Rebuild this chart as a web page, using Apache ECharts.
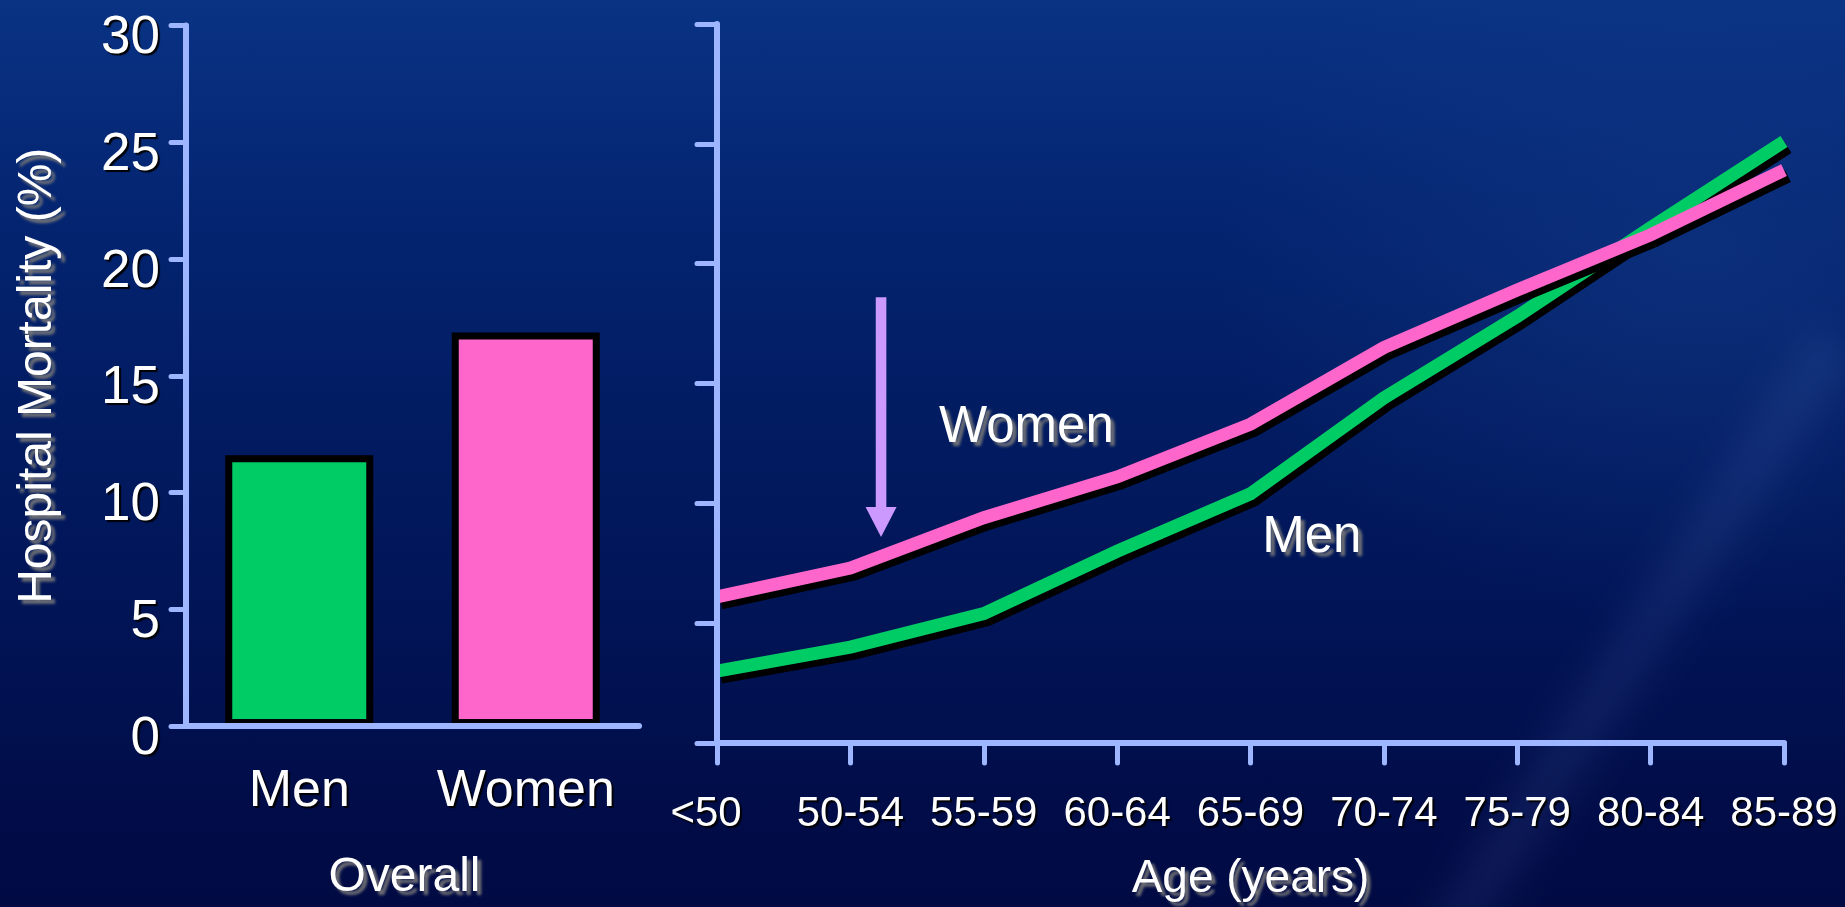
<!DOCTYPE html>
<html>
<head>
<meta charset="utf-8">
<script src="https://cdn.jsdelivr.net/npm/echarts@6/dist/echarts.min.js"></script>
<style>
  html, body { margin: 0; padding: 0; background: #021a5c; }
  #wrap {
    position: relative; width: 1845px; height: 907px; overflow: hidden;
    background:
      radial-gradient(ellipse 700px 520px at 1700px 260px, rgba(22, 62, 140, 0.45), rgba(22, 62, 140, 0) 70%),
      linear-gradient(180deg, #0a3384 0%, #042572 22%, #021c62 45%, #011456 68%, #010d49 88%, #010a43 100%);
  }
  #streak {
    position: absolute; left: 1420px; top: 940px; width: 760px; height: 80px;
    transform: rotate(-57deg); transform-origin: 0 50%;
    background: linear-gradient(180deg, rgba(120,150,230,0) 0%, rgba(120,150,230,0.13) 50%, rgba(120,150,230,0) 100%);
    filter: blur(16px);
  }
  #chart { position: absolute; left: 0; top: 0; width: 1845px; height: 907px; }
</style>
</head>
<body>
<div id="wrap">
  <div id="streak"></div>
  <div id="chart"></div>
</div>
<script>
// Overall hospital mortality by sex
const overallCategories = ['Men', 'Women'];
const overallValues = [11.6, 16.85];

// Hospital mortality by age group
const ageGroups = ['<50', '50-54', '55-59', '60-64', '65-69', '70-74', '75-79', '80-84', '85-89'];
const menByAge   = [3.0, 4.0, 5.4, 8.0, 10.4, 14.4, 17.8, 21.5, 25.1];
const womenByAge = [6.1, 7.3, 9.4, 11.1, 13.3, 16.5, 18.9, 21.2, 23.9];

// Shared mortality axis (%)
const mortalityMin = 0;
const mortalityMax = 30;
const mortalityStep = 5;

// Annotations in the age panel: [age-group index, mortality %]
const arrowStart = [1.23, 18.6];
const arrowEnd = [1.23, 8.6];
const womenTag = { text: 'Women', at: [2.32, 13.16] };
const menTag = { text: 'Men', at: [4.46, 8.57] };

const GREEN = '#00cc66';
const PINK = '#ff66cc';
const AXIS = '#9db6ff';
const LAVENDER = '#cc99ff';
const FONT = '"Liberation Sans", Arial, Helvetica, sans-serif';

const tickShadow = { textShadowColor: 'rgba(0,0,0,0.95)', textShadowBlur: 1, textShadowOffsetX: 2, textShadowOffsetY: 2 };
const titleShadow = { textShadowColor: 'rgba(120,120,120,0.95)', textShadowBlur: 3, textShadowOffsetX: 4, textShadowOffsetY: 4 };

const chart = echarts.init(document.getElementById('chart'), null, { renderer: 'canvas' });

const axisLine = { show: true, lineStyle: { color: AXIS, width: 6, cap: 'round' } };
const lineShadow = { shadowColor: '#000', shadowBlur: 0, shadowOffsetX: 4, shadowOffsetY: 6 };

chart.setOption({
  backgroundColor: 'transparent',
  animation: false,
  grid: [
    { left: 186, top: 25.5, width: 453, height: 700.5 },
    { left: 717, top: 24, width: 1067, height: 719 }
  ],
  xAxis: [
    {
      gridIndex: 0, type: 'category', data: overallCategories, z: 5,
      axisLine: axisLine,
      axisTick: { show: false },
      axisLabel: Object.assign({ color: '#fff', fontSize: 52, fontFamily: FONT, margin: 40, interval: 0 }, tickShadow),
      name: 'Overall', nameLocation: 'middle', nameGap: 128,
      nameTextStyle: Object.assign({ color: '#fff', fontSize: 48, fontFamily: FONT, padding: [0, 16, 0, 0] }, titleShadow)
    },
    {
      gridIndex: 1, type: 'category', data: ageGroups, boundaryGap: false, z: 5,
      axisLine: axisLine,
      axisTick: { show: true, length: 20, lineStyle: { color: AXIS, width: 5, cap: 'round' } },
      axisLabel: Object.assign({
        color: '#fff', fontSize: 42, fontFamily: FONT, margin: 50, interval: 0,
        formatter: (v, i) => (i === 0 ? '{first|' + v + '}' : v),
        rich: { first: Object.assign({ color: '#fff', fontSize: 42, fontFamily: FONT, padding: [0, 22, 0, 0] }, tickShadow) }
      }, tickShadow),
      name: 'Age (years)', nameLocation: 'middle', nameGap: 113,
      nameTextStyle: Object.assign({ color: '#fff', fontSize: 46, fontFamily: FONT }, titleShadow)
    }
  ],
  yAxis: [
    {
      gridIndex: 0, type: 'value', min: mortalityMin, max: mortalityMax, interval: mortalityStep, z: 5,
      axisLine: axisLine,
      axisTick: { show: true, length: 15, lineStyle: { color: AXIS, width: 5, cap: 'round' } },
      splitLine: { show: false },
      axisLabel: Object.assign({
        color: '#fff', fontSize: 53, fontFamily: FONT, margin: 26,
        verticalAlign: 'top', lineHeight: 26
      }, tickShadow),
      name: 'Hospital Mortality (%)', nameLocation: 'middle', nameGap: 124, nameRotate: 90,
      nameTextStyle: Object.assign({ color: '#fff', fontSize: 48, fontFamily: FONT }, titleShadow)
    },
    {
      gridIndex: 1, type: 'value', min: mortalityMin, max: mortalityMax, interval: mortalityStep, z: 5,
      axisLine: axisLine,
      axisTick: { show: true, length: 20, lineStyle: { color: AXIS, width: 5, cap: 'round' } },
      splitLine: { show: false },
      axisLabel: { show: false }
    }
  ],
  series: [
    {
      type: 'bar', xAxisIndex: 0, yAxisIndex: 0, barWidth: 148,
      data: overallValues.map((v, i) => ({
        value: v,
        itemStyle: { color: i === 0 ? GREEN : PINK, borderColor: '#000', borderWidth: 7 }
      }))
    },
    {
      name: 'Men', type: 'line', xAxisIndex: 1, yAxisIndex: 1, data: menByAge,
      showSymbol: false, symbol: 'none',
      lineStyle: Object.assign({ color: GREEN, width: 13, join: 'miter' }, lineShadow)
    },
    {
      name: 'Women', type: 'line', xAxisIndex: 1, yAxisIndex: 1, data: womenByAge,
      showSymbol: false, symbol: 'none',
      lineStyle: Object.assign({ color: PINK, width: 13, join: 'miter' }, lineShadow)
    }
  ]
});

// Convert a fractional age-group position and a mortality value to pixels
function toPx(pos) {
  const i0 = Math.floor(pos[0]);
  const f = pos[0] - i0;
  const a = chart.convertToPixel({ gridIndex: 1 }, [i0, pos[1]]);
  const b = chart.convertToPixel({ gridIndex: 1 }, [Math.min(i0 + 1, ageGroups.length - 1), pos[1]]);
  return [a[0] + (b[0] - a[0]) * f, a[1]];
}

const aTop = toPx(arrowStart);
const aTip = toPx(arrowEnd);
const headLen = 30, headHalf = 15.5, shaftHalf = 5.3;

function tag(t) {
  const p = toPx(t.at);
  return {
    type: 'text', z: 20,
    x: p[0], y: p[1],
    style: Object.assign({
      text: t.text, fill: '#fff', fontSize: 51, fontFamily: FONT,
      align: 'center', verticalAlign: 'middle'
    }, titleShadow)
  };
}

chart.setOption({
  graphic: [
    {
      type: 'rect', z: 20,
      shape: { x: aTop[0] - shaftHalf, y: aTop[1], width: shaftHalf * 2, height: aTip[1] - headLen - aTop[1] + 1 },
      style: { fill: LAVENDER }
    },
    {
      type: 'polygon', z: 20,
      shape: { points: [[aTip[0] - headHalf, aTip[1] - headLen], [aTip[0] + headHalf, aTip[1] - headLen], [aTip[0], aTip[1]]] },
      style: { fill: LAVENDER }
    },
    tag(womenTag),
    tag(menTag)
  ]
});
</script>
</body>
</html>
